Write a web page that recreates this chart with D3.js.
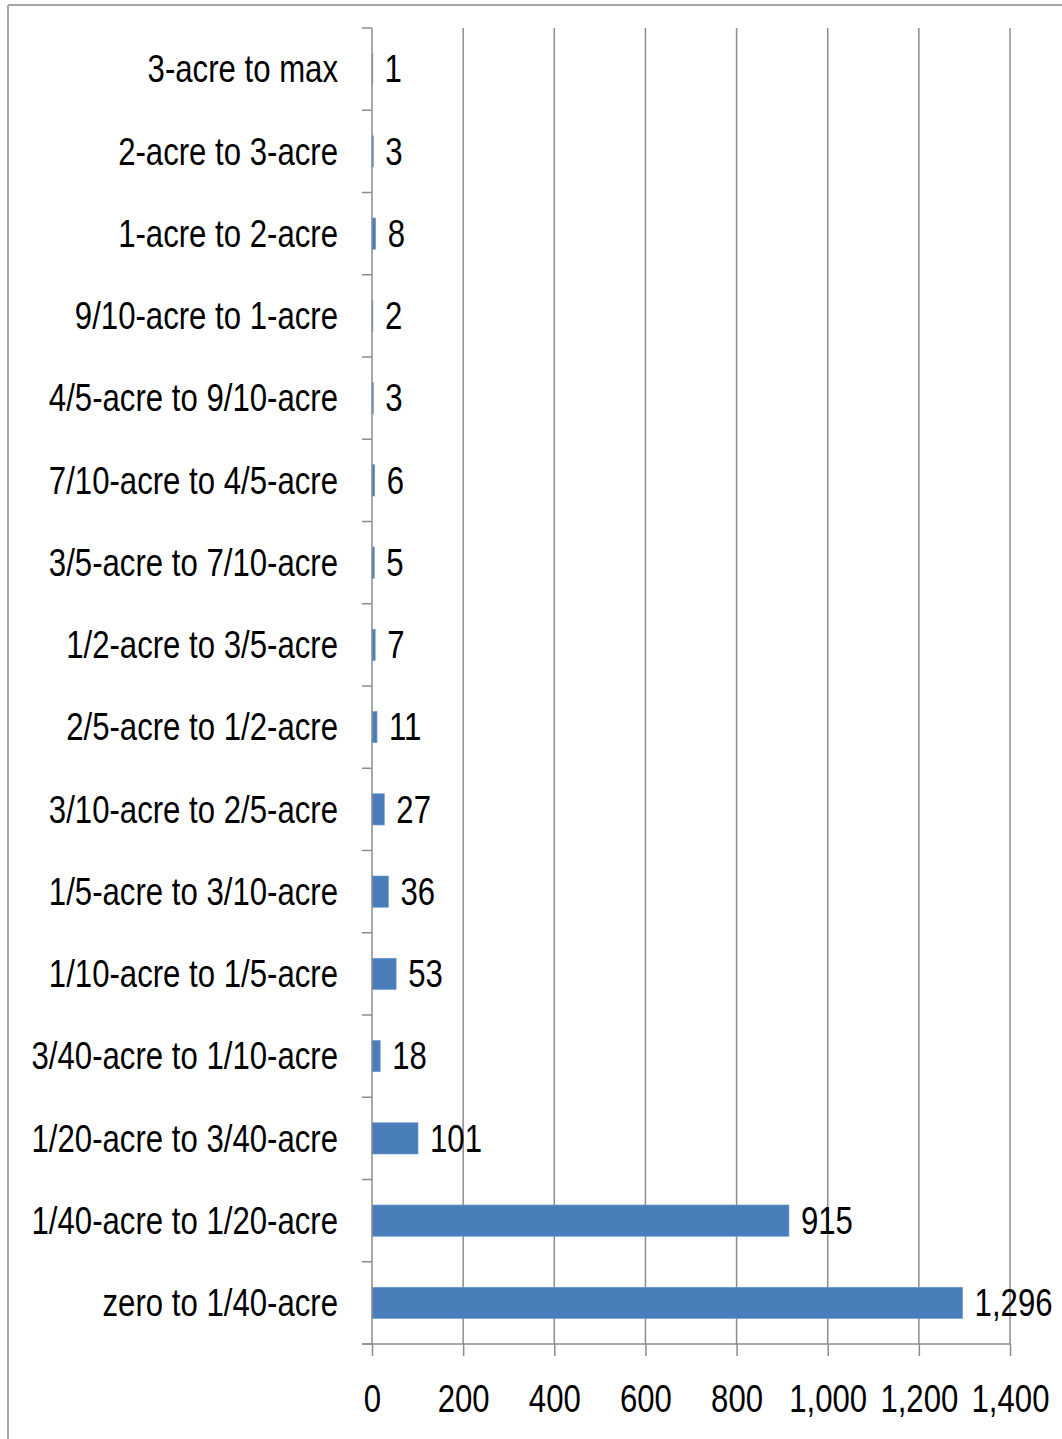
<!DOCTYPE html>
<html>
<head>
<meta charset="utf-8">
<script src="https://cdn.jsdelivr.net/npm/d3@7"></script>
<style>
  html, body { margin: 0; padding: 0; background: #fff; }
  svg { display: block; }
  text { font-family: "Liberation Sans", Arial, sans-serif; fill: #000; }
</style>
</head>
<body>
<svg id="chart" width="1062" height="1439"></svg>
<script>
// Lot-size classes, listed top to bottom as they appear on the chart
const categories = [
  "3-acre to max",
  "2-acre to 3-acre",
  "1-acre to 2-acre",
  "9/10-acre to 1-acre",
  "4/5-acre to 9/10-acre",
  "7/10-acre to 4/5-acre",
  "3/5-acre to 7/10-acre",
  "1/2-acre to 3/5-acre",
  "2/5-acre to 1/2-acre",
  "3/10-acre to 2/5-acre",
  "1/5-acre to 3/10-acre",
  "1/10-acre to 1/5-acre",
  "3/40-acre to 1/10-acre",
  "1/20-acre to 3/40-acre",
  "1/40-acre to 1/20-acre",
  "zero to 1/40-acre"
];

// Number of parcels in each class
const counts = [1, 3, 8, 2, 3, 6, 5, 7, 11, 27, 36, 53, 18, 101, 915, 1296];

// Value axis ticks
const xTicks = [0, 200, 400, 600, 800, 1000, 1200, 1400];

const svg = d3.select("#chart");
const fontSize = 38;
const squeeze = 0.82;   // narrow, tall lettering
const fmt = d3.format(",");

// Outer frame (top and left edges)
svg.append("line").attr("x1", 8).attr("x2", 1062).attr("y1", 5).attr("y2", 5)
  .attr("stroke", "#a6a6a6").attr("stroke-width", 2);
svg.append("line").attr("x1", 8).attr("x2", 8).attr("y1", 5).attr("y2", 1439)
  .attr("stroke", "#a6a6a6").attr("stroke-width", 2);

const plot = { left: 372, right: 1010, top: 28, bottom: 1344 };

const x = d3.scaleLinear().domain([0, 1400]).range([plot.left, plot.right]);
const y = d3.scaleBand().domain(categories).range([plot.top, plot.bottom])
  .paddingInner(0.62).paddingOuter(0.31);

// Vertical gridlines
svg.append("g").selectAll("line").data(xTicks.filter(d => d > 0)).join("line")
  .attr("x1", d => x(d)).attr("x2", d => x(d))
  .attr("y1", plot.top).attr("y2", plot.bottom)
  .attr("stroke", "#8c8c8c").attr("stroke-width", 1.5);

// Bars
svg.append("g").selectAll("rect").data(categories).join("rect")
  .attr("x", x(0))
  .attr("y", d => y(d))
  .attr("width", (d, i) => Math.max(0.8, x(counts[i]) - x(0)))
  .attr("height", y.bandwidth())
  .attr("fill", "#4a7ebb")
  .attr("stroke", "#6f9ad0").attr("stroke-width", 0.6);

// Value labels
svg.append("g").selectAll("text").data(categories).join("text")
  .attr("transform", (d, i) =>
    `translate(${x(counts[i]) + 12},${y(d) + y.bandwidth() / 2}) scale(${squeeze},1)`)
  .attr("dy", "0.35em")
  .attr("font-size", fontSize)
  .text((d, i) => fmt(counts[i]));

// Category axis: line, boundary ticks, labels
const catAxis = svg.append("g");
catAxis.append("line")
  .attr("x1", plot.left).attr("x2", plot.left)
  .attr("y1", plot.top).attr("y2", plot.bottom)
  .attr("stroke", "#8c8c8c").attr("stroke-width", 1.5);
catAxis.selectAll("line.tick").data(d3.range(categories.length + 1)).join("line")
  .attr("class", "tick")
  .attr("x1", plot.left - 10).attr("x2", plot.left)
  .attr("y1", i => plot.top + i * (plot.bottom - plot.top) / categories.length)
  .attr("y2", i => plot.top + i * (plot.bottom - plot.top) / categories.length)
  .attr("stroke", "#8c8c8c").attr("stroke-width", 1.5);
catAxis.selectAll("text").data(categories).join("text")
  .attr("transform", d => `translate(338,${y(d) + y.bandwidth() / 2}) scale(${squeeze},1)`)
  .attr("dy", "0.35em")
  .attr("text-anchor", "end")
  .attr("font-size", fontSize)
  .text(d => d);

// Value axis
const xAxis = d3.axisBottom(x).tickValues(xTicks).tickSize(12).tickPadding(29)
  .tickFormat(fmt);
const gx = svg.append("g").attr("transform", `translate(0,${plot.bottom})`).call(xAxis);
gx.attr("font-family", null).attr("font-size", null);
gx.select(".domain").attr("d", `M${plot.left - 10},0H${plot.right}`)
  .attr("stroke", "#8c8c8c").attr("stroke-width", 1.5);
gx.selectAll(".tick line").attr("stroke", "#8c8c8c").attr("stroke-width", 1.5);
gx.selectAll(".tick text")
  .attr("font-size", fontSize)
  .attr("fill", "#000")
  .attr("transform", `scale(${squeeze},1)`);
</script>
</body>
</html>
